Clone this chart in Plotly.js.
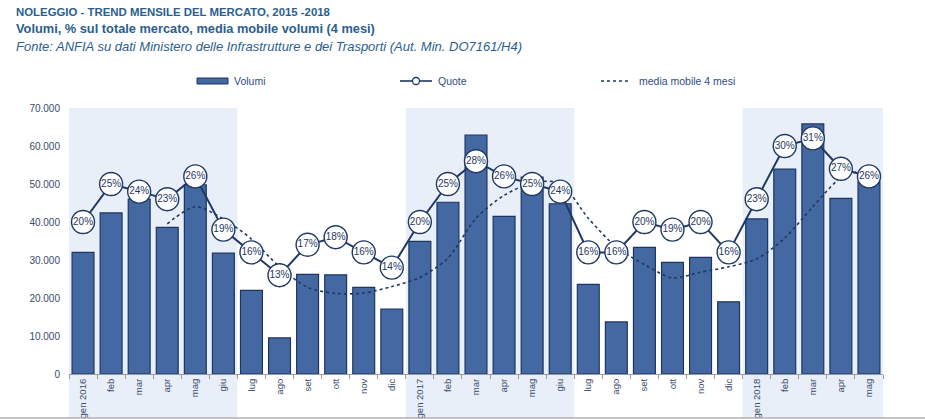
<!DOCTYPE html>
<html>
<head>
<meta charset="utf-8">
<script src="https://cdn.plot.ly/plotly-3.0.1.min.js"></script>
<style>
  html, body { margin: 0; padding: 0; background: #ffffff; }
  #chart { width: 925px; height: 419px; }
</style>
</head>
<body>
<div id="chart"></div>
<script>
// ---- data ----
const mesi = ['gen 2016','feb','mar','apr','mag','giu','lug','ago','set','ott','nov','dic',
              'gen 2017','feb','mar','apr','mag','giu','lug','ago','set','ott','nov','dic',
              'gen 2018','feb','mar','apr','mag'];
const volumi = [32000,42400,46000,38600,49800,31800,22000,9500,26200,26100,22800,17100,
                34900,45200,62900,41500,51800,44800,23600,13700,33300,29400,30700,19000,
                40800,53900,65800,46200,50600];
const quote = [20,25,24,23,26,19,16,13,17,18,16,14,
               20,25,28,26,25,24,16,16,20,19,20,16,
               23,30,31,27,26];
const mediaMobile = [null,null,null,39500,44000,40800,35500,28200,22800,21200,21300,23000,
                     25400,30500,41000,47000,50300,50200,41000,33400,28800,25300,26800,28200,
                     30300,35800,44000,51600,54000];
const yTicks = [0,10000,20000,30000,40000,50000,60000,70000];
const legendNames = ['Volumi', 'Quote', 'media mobile 4 mesi'];
// shaded periods (first and last month index)
const periodi = [[0,5],[12,17],[24,28]];

const xPos = mesi.map((_, i) => i);
const navy = '#1f3864';
const barFill = '#4468a1';
const barLine = '#1d3563';

// pixel -> paper helpers (plot area: x 69..883, y 108..374)
const M = { l: 69, r: 42, t: 108, b: 45 };
const PW = 925 - M.l - M.r, PH = 419 - M.t - M.b;
const px = x => (x - M.l) / PW;
const py = y => (419 - M.b - y) / PH;

const traces = [
  {
    type: 'bar', name: legendNames[0], x: xPos, y: volumi,
    marker: { color: barFill, line: { color: barLine, width: 1.2 } },
    hoverinfo: 'skip', showlegend: false
  },
  {
    type: 'scatter', mode: 'lines', name: legendNames[2], x: xPos, y: mediaMobile,
    line: { color: navy, width: 1.6, dash: 'dot', shape: 'spline', smoothing: 0.8 },
    connectgaps: false, hoverinfo: 'skip', showlegend: false
  },
  {
    type: 'scatter', mode: 'lines+markers+text', name: legendNames[1], x: xPos, y: quote, yaxis: 'y2',
    text: quote.map(v => v + '%'), textposition: 'middle center',
    textfont: { family: 'Liberation Sans, Arial, sans-serif', size: 10, color: navy },
    line: { color: navy, width: 2 },
    marker: { size: 23, color: '#ffffff', line: { color: navy, width: 1.4 } },
    hoverinfo: 'skip', showlegend: false
  }
];

const bands = periodi.map(p => ({
  type: 'rect', xref: 'x', yref: 'paper',
  x0: p[0] - 0.5, x1: p[1] + 0.5, y0: py(418), y1: 1,
  fillcolor: '#e9eff9', line: { width: 0 }, layer: 'below'
}));

// hand-drawn legend (wide bar swatch, small circle marker)
const legY = 81;
const legendShapes = [
  { type: 'rect', xref: 'paper', yref: 'paper', x0: px(197), x1: px(228), y0: py(84), y1: py(78),
    fillcolor: barFill, line: { color: barLine, width: 1 } },
  { type: 'line', xref: 'paper', yref: 'paper', x0: px(400), x1: px(432), y0: py(legY), y1: py(legY),
    line: { color: navy, width: 1.6 } },
  { type: 'circle', xref: 'paper', yref: 'paper', x0: px(412.5), x1: px(419.5), y0: py(legY + 3.5), y1: py(legY - 3.5),
    fillcolor: '#ffffff', line: { color: navy, width: 1.3 } },
  { type: 'line', xref: 'paper', yref: 'paper', x0: px(601), x1: px(629), y0: py(legY), y1: py(legY),
    line: { color: navy, width: 1.3, dash: 'dot' } }
];
const legendFont = { family: 'Liberation Sans, Arial, sans-serif', size: 10.5, color: '#2f4c86' };
const legendAnn = [[232, legendNames[0]], [436, legendNames[1]], [637, legendNames[2]]].map(a => ({
  xref: 'paper', yref: 'paper', x: px(a[0]), y: py(legY), xanchor: 'left', yanchor: 'middle',
  showarrow: false, text: a[1], font: legendFont
}));

const titleColor = '#2b5e8e';
const titleAnn = [
  { text: 'NOLEGGIO - TREND MENSILE DEL MERCATO, 2015 -2018', y: 12,
    font: { family: 'Liberation Sans, Arial, sans-serif', size: 11.4, color: titleColor, weight: 700 } },
  { text: 'Volumi, % sul totale mercato, media mobile volumi (4 mesi)', y: 29,
    font: { family: 'Liberation Sans, Arial, sans-serif', size: 12.8, color: titleColor, weight: 700 } },
  { text: '<i>Fonte: ANFIA su dati Ministero delle Infrastrutture e dei Trasporti (Aut. Min. DO7161/H4)</i>', y: 46,
    font: { family: 'Liberation Sans, Arial, sans-serif', size: 13, color: titleColor, weight: 400 } }
].map(a => ({
  xref: 'paper', yref: 'paper', x: px(14), y: py(a.y),
  xanchor: 'left', yanchor: 'middle', showarrow: false, text: a.text, font: a.font
}));

const layout = {
  width: 925, height: 419,
  margin: M,
  paper_bgcolor: '#ffffff', plot_bgcolor: 'rgba(0,0,0,0)',
  separators: ',.',
  bargap: 0.22,
  showlegend: false,
  xaxis: {
    range: [-0.5, 28.5], tickmode: 'array', tickvals: xPos, ticktext: mesi,
    tickangle: -90, ticks: '', showgrid: false, zeroline: false,
    showline: true, linecolor: '#9a9a9a', linewidth: 1,
    tickfont: { family: 'Liberation Sans, Arial, sans-serif', size: 9.5, color: '#3a4a6a' },
    minor: { tickmode: 'linear', tick0: 0.5, dtick: 1, ticks: 'outside', ticklen: 4, tickcolor: '#9a9a9a', showgrid: false },
    fixedrange: true
  },
  yaxis: {
    range: [0, 70000], tickmode: 'array', tickvals: yTicks, tickformat: ',d',
    showgrid: false, zeroline: false, showline: false, ticks: '',
    ticklabelstandoff: 8,
    tickfont: { family: 'Liberation Sans, Arial, sans-serif', size: 10, color: '#3a4a6a' },
    fixedrange: true
  },
  yaxis2: {
    range: [0, 35], overlaying: 'y', side: 'right', visible: false, fixedrange: true
  },
  shapes: bands.concat(legendShapes, [{
    type: 'line', xref: 'paper', yref: 'paper',
    x0: px(0), x1: px(925), y0: py(418), y1: py(418),
    line: { color: '#b0b0b0', width: 1.5 }
  }]),
  annotations: titleAnn.concat(legendAnn)
};

Plotly.newPlot('chart', traces, layout, { displayModeBar: false, staticPlot: true });
</script>
</body>
</html>
